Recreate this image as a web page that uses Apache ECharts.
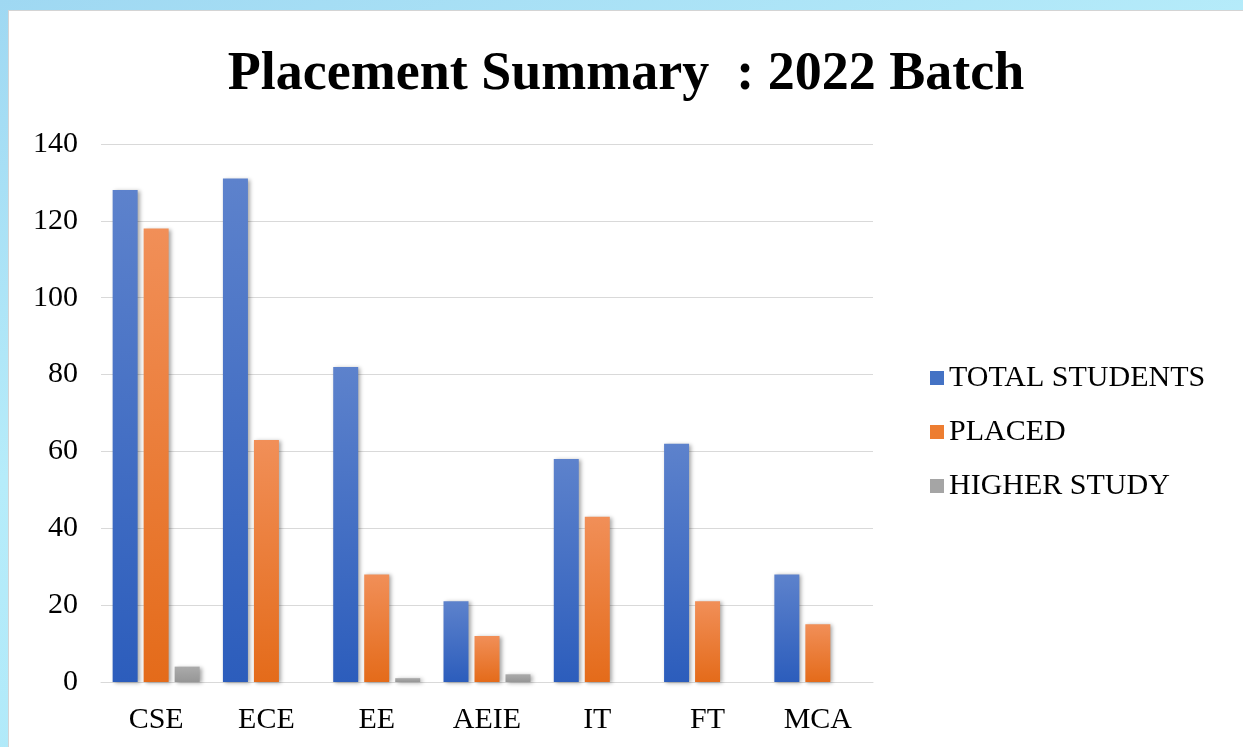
<!DOCTYPE html>
<html>
<head>
<meta charset="utf-8">
<script src="https://cdn.jsdelivr.net/npm/echarts@6/dist/echarts.min.js"></script>
<style>
    html, body { margin: 0; padding: 0; }
    body {
        width: 1243px; height: 747px; overflow: hidden;
        background: linear-gradient(160deg, #9fd8f2 0%, #b6ecfa 40%, #a9e6f8 100%);
        position: relative;
    }
    #main {
        position: absolute; left: 8px; top: 10px;
        width: 1235px; height: 737px;
        background: #ffffff;
        border-left: 1px solid #d4d4d4;
        border-top: 1px solid #d4d4d4;
        box-sizing: border-box;
    }
</style>
</head>
<body>
<div id="main"></div>
<script>
var departments = ['CSE', 'ECE', 'EE', 'AEIE', 'IT', 'FT', 'MCA'];
var totalStudents = [128, 131, 82, 21, 58, 62, 28];
var placed = [118, 63, 28, 12, 43, 21, 15];
var higherStudy = [4, 0, 1, 2, 0, 0, 0];
var yTicks = [0, 20, 40, 60, 80, 100, 120, 140];

var serif = '"Liberation Serif", "Times New Roman", serif';

function grad(top, bottom) {
    return new echarts.graphic.LinearGradient(0, 0, 0, 1, [
        {offset: 0, color: top},
        {offset: 1, color: bottom}
    ]);
}

var shadow = {
    shadowColor: 'rgba(0,0,0,0.35)',
    shadowBlur: 4,
    shadowOffsetX: 2,
    shadowOffsetY: 1
};

var myChart = echarts.init(document.getElementById('main'));
var option = {
    animation: false,
    title: {
        text: 'Placement Summary  : 2022 Batch',
        left: 'center',
        top: 32,
        textStyle: {
            fontFamily: serif,
            fontWeight: 'bold',
            fontSize: 54,
            color: '#000'
        }
    },
    legend: {
        orient: 'vertical',
        left: 916,
        top: 347,
        icon: 'rect',
        itemWidth: 14,
        itemHeight: 14,
        itemGap: 24,
        textStyle: {fontFamily: serif, fontSize: 30, color: '#000'},
        data: [
            {name: 'TOTAL STUDENTS', itemStyle: {color: '#4472c4'}},
            {name: 'PLACED', itemStyle: {color: '#ed7d31'}},
            {name: 'HIGHER STUDY', itemStyle: {color: '#a5a5a5'}}
        ]
    },
    grid: {left: 92, right: 370, top: 133, bottom: 65, containLabel: false},
    xAxis: {
        type: 'category',
        data: departments,
        axisTick: {show: false},
        axisLine: {lineStyle: {color: '#d9d9d9', width: 1}},
        axisLabel: {fontFamily: serif, fontSize: 30, color: '#000', margin: 23}
    },
    yAxis: {
        type: 'value',
        min: yTicks[0],
        max: yTicks[yTicks.length - 1],
        interval: 20,
        axisLine: {show: false},
        axisTick: {show: false},
        splitLine: {lineStyle: {color: '#d9d9d9', width: 1}},
        axisLabel: {fontFamily: serif, fontSize: 30, color: '#000', margin: 23}
    },
    series: [
        {
            name: 'TOTAL STUDENTS',
            type: 'bar',
            barWidth: 25,
            barGap: '24%',
            itemStyle: Object.assign({color: grad('#5d82cc', '#2c5dbc')}, shadow),
            data: totalStudents
        },
        {
            name: 'PLACED',
            type: 'bar',
            barWidth: 25,
            barGap: '24%',
            itemStyle: Object.assign({color: grad('#f18f58', '#e46b1a')}, shadow),
            data: placed
        },
        {
            name: 'HIGHER STUDY',
            type: 'bar',
            barWidth: 25,
            barGap: '24%',
            itemStyle: Object.assign({color: grad('#ababab', '#969696')}, shadow),
            data: higherStudy
        }
    ]
};
myChart.setOption(option, true);
</script>
</body>
</html>
